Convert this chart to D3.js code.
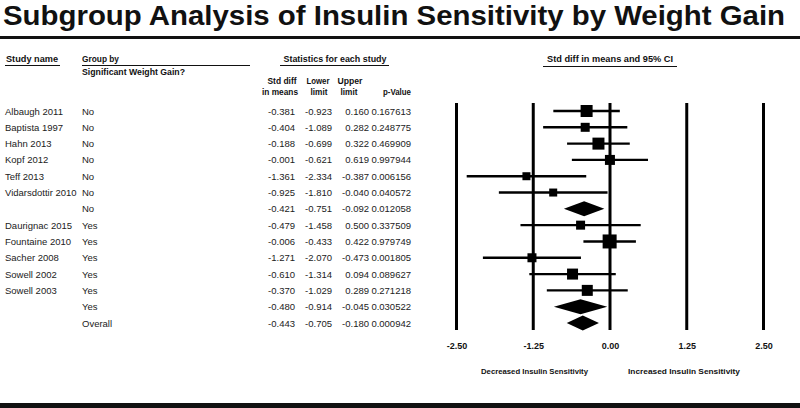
<!DOCTYPE html>
<html><head><meta charset="utf-8">
<script src="https://cdn.jsdelivr.net/npm/d3@7"></script>
<style>body{margin:0;background:#fff}svg{display:block}</style>
</head><body>
<script>
const studyNames = ["Albaugh 2011","Baptista 1997","Hahn 2013","Kopf 2012","Teff 2013","Vidarsdottir 2010","","Daurignac 2015","Fountaine 2010","Sacher 2008","Sowell 2002","Sowell 2003","",""];
const groups = ["No","No","No","No","No","No","No","Yes","Yes","Yes","Yes","Yes","Yes","Overall"];
const rowKinds = ["study","study","study","study","study","study","summary","study","study","study","study","study","summary","summary"];
const stdDiff = [-0.381,-0.404,-0.188,-0.001,-1.361,-0.925,-0.421,-0.479,-0.006,-1.271,-0.610,-0.370,-0.480,-0.443];
const lowerLimit = [-0.923,-1.089,-0.699,-0.621,-2.334,-1.810,-0.751,-1.458,-0.433,-2.070,-1.314,-1.029,-0.914,-0.705];
const upperLimit = [0.160,0.282,0.322,0.619,-0.387,-0.040,-0.092,0.500,0.422,-0.473,0.094,0.289,-0.045,-0.180];
const pValues = ["0.167613","0.248775","0.469909","0.997944","0.006156","0.040572","0.012058","0.337509","0.979749","0.001805","0.089627","0.271218","0.030522","0.000942"];
const relWeights = [144,81,144,100,64,64,0,81,196,81,121,121,0,0];
const axisTicks = [-2.50,-1.25,0.00,1.25,2.50];

const W = 800, H = 408;
const svg = d3.select("body").append("svg").attr("width", W).attr("height", H)
  .style("font-family", "'Liberation Sans', Arial, sans-serif");
const loc = d3.formatLocale({decimal: ".", thousands: ",", grouping: [3], currency: ["", ""], minus: "-"});
const fmt = loc.format(".3f");
const fmtTick = loc.format(".2f");

// Title
svg.append("text").attr("x", 3).attr("y", 25)
  .attr("textLength", 782).attr("lengthAdjust", "spacingAndGlyphs")
  .style("font-size", "28px").style("font-weight", "bold").attr("fill", "#111")
  .text("Subgroup Analysis of Insulin Sensitivity by Weight Gain");
svg.append("rect").attr("x", 0).attr("y", 36).attr("width", W).attr("height", 3).attr("fill", "#111");
svg.append("rect").attr("x", 0).attr("y", 403).attr("width", W).attr("height", 5).attr("fill", "#111");

const x = d3.scaleLinear().domain([-2.5, 2.5]).range([456.5, 763.5]);
const y = d3.scaleLinear().domain([0, studyNames.length - 1]).range([111, 323]);

const hdr = svg.append("g").style("font-size", "9px").style("font-weight", "bold").attr("fill", "#111");
function headText(t, xx, yy, anchor, len) {
  const el = hdr.append("text").attr("x", xx).attr("y", yy).attr("text-anchor", anchor || "start").text(t);
  if (len) el.attr("textLength", len).attr("lengthAdjust", "spacingAndGlyphs");
  return el;
}
headText("Study name", 6, 62, "start", 52);
svg.append("line").attr("x1", 5).attr("x2", 60).attr("y1", 65.5).attr("y2", 65.5).attr("stroke", "#111").attr("stroke-width", 1.2);
headText("Group by", 82, 62, "start", 37);
svg.append("line").attr("x1", 82).attr("x2", 250).attr("y1", 65.5).attr("y2", 65.5).attr("stroke", "#111").attr("stroke-width", 1.2);
headText("Significant Weight Gain?", 82, 75, "start", 103);
headText("Statistics for each study", 335, 62, "middle", 103);
svg.append("line").attr("x1", 280).attr("x2", 389).attr("y1", 65.5).attr("y2", 65.5).attr("stroke", "#111").attr("stroke-width", 1.2);
headText("Std diff", 282, 84, "middle", 29);
headText("in means", 280, 95, "middle", 36);
headText("Lower", 318, 84, "middle", 23);
headText("limit", 319, 95, "middle", 17);
headText("Upper", 350, 84, "middle", 25);
headText("limit", 349, 95, "middle", 17);
headText("p-Value", 397, 95, "middle", 28);
headText("Std diff in means and 95%  CI", 610, 62, "middle", 126);
svg.append("line").attr("x1", 543).attr("x2", 677).attr("y1", 66.5).attr("y2", 66.5).attr("stroke", "#111").attr("stroke-width", 1.2);

// Table rows
const rows = d3.range(studyNames.length);
const tbl = svg.append("g").style("font-size", "9.5px").attr("fill", "#222");
rows.forEach(i => {
  const yy = y(i) + 3.5;
  if (studyNames[i]) tbl.append("text").attr("x", 5).attr("y", yy).text(studyNames[i]);
  tbl.append("text").attr("x", 82).attr("y", yy).text(groups[i]);
  tbl.append("text").attr("x", 295).attr("y", yy).attr("text-anchor", "end").text(fmt(stdDiff[i]));
  tbl.append("text").attr("x", 332).attr("y", yy).attr("text-anchor", "end").text(fmt(lowerLimit[i]));
  tbl.append("text").attr("x", 369).attr("y", yy).attr("text-anchor", "end").text(fmt(upperLimit[i]));
  tbl.append("text").attr("x", 411).attr("y", yy).attr("text-anchor", "end").text(pValues[i]);
});

// Reference lines
svg.append("g").selectAll("line").data(axisTicks).join("line")
  .attr("x1", d => x(d)).attr("x2", d => x(d)).attr("y1", 103).attr("y2", 330)
  .attr("stroke", "#000").attr("stroke-width", 3);

// Axis labels
const axis = d3.axisBottom(x).tickValues(axisTicks).tickFormat(fmtTick).tickSize(0);
const ag = svg.append("g").attr("transform", "translate(0,340)").call(axis);
ag.select(".domain").remove();
ag.selectAll("text").style("font-size", "9px").style("font-weight", "bold")
  .style("font-family", "'Liberation Sans', Arial, sans-serif").attr("fill", "#111");

// CI lines and squares
const studyRows = rows.filter(i => rowKinds[i] === "study");
const size = d3.scaleSqrt().domain([0, 196]).range([0, 14]);
svg.append("g").selectAll("line").data(studyRows).join("line")
  .attr("x1", i => x(lowerLimit[i])).attr("x2", i => x(upperLimit[i]))
  .attr("y1", i => y(i)).attr("y2", i => y(i)).attr("stroke", "#000").attr("stroke-width", 2.4);
svg.append("g").selectAll("rect").data(studyRows).join("rect")
  .attr("x", i => x(stdDiff[i]) - size(relWeights[i]) / 2)
  .attr("y", i => y(i) - size(relWeights[i]) / 2)
  .attr("width", i => size(relWeights[i])).attr("height", i => size(relWeights[i]))
  .attr("fill", "#000");

// Diamonds
const sumRows = rows.filter(i => rowKinds[i] === "summary");
svg.append("g").selectAll("path").data(sumRows).join("path")
  .attr("d", i => {
    const h = 7.5, cy = y(i);
    return `M${x(lowerLimit[i])},${cy}L${x(stdDiff[i])},${cy - h}L${x(upperLimit[i])},${cy}L${x(stdDiff[i])},${cy + h}Z`;
  })
  .attr("fill", "#000");

// Footer labels
const ft = svg.append("g").style("font-size", "7.5px").style("font-weight", "bold").attr("fill", "#111");
ft.append("text").attr("x", 481).attr("y", 374).attr("textLength", 107).attr("lengthAdjust", "spacingAndGlyphs").text("Decreased Insulin Sensitivity");
ft.append("text").attr("x", 628).attr("y", 374).attr("textLength", 112).attr("lengthAdjust", "spacingAndGlyphs").text("Increased Insulin Sensitivity");
</script>
</body></html>
